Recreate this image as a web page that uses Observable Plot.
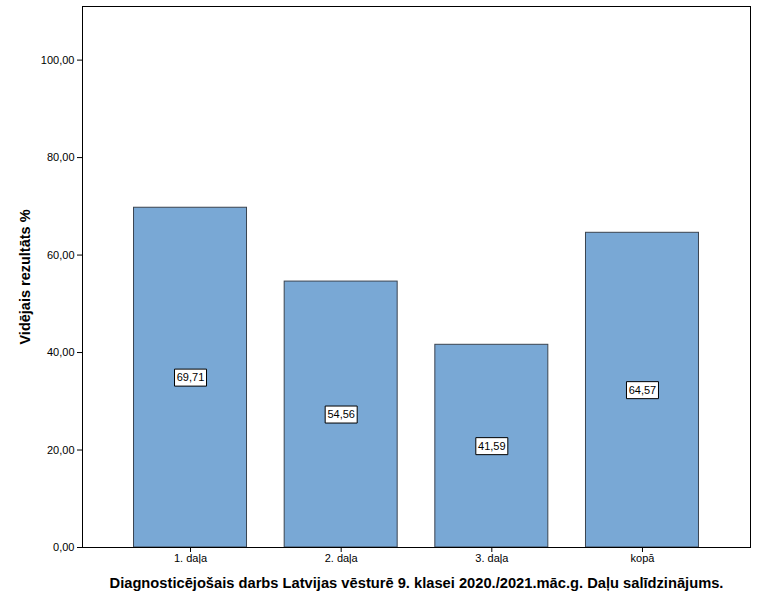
<!DOCTYPE html>
<html><head><meta charset="utf-8">
<script src="https://cdn.jsdelivr.net/npm/d3@7"></script>
<script src="https://cdn.jsdelivr.net/npm/@observablehq/plot@0.6"></script>
<style>body{margin:0;background:#fff;} svg{display:block;}</style>
</head><body><div id="chart"></div>
<script>
const categories = ["1. daļa", "2. daļa", "3. daļa", "kopā"];
const values = [69.71, 54.56, 41.59, 64.57];
const yTicks = [0, 20, 40, 60, 80, 100];
const xTitle = "Diagnosticējošais darbs Latvijas vēsturē 9. klasei 2020./2021.māc.g. Daļu salīdzinājums.";
const yTitle = "Vidējais rezultāts %";

const data = categories.map((c, i) => ({cat: c, value: values[i]}));
const fmt = d => d.toFixed(2).replace(".", ",");
const boxSymbol = {draw(ctx) {
  ctx.moveTo(-16, -8.5); ctx.lineTo(16, -8.5); ctx.lineTo(16, 8.5); ctx.lineTo(-16, 8.5); ctx.closePath();
}};

const chart = Plot.plot({
  width: 758, height: 606,
  marginLeft: 82, marginRight: 8, marginTop: 6, marginBottom: 59,
  style: {fontFamily: "'Liberation Sans', Arial, sans-serif", fontSize: "11px", color: "#000", background: "#fff"},
  x: {type: "band", domain: categories, paddingInner: 0.25, paddingOuter: 0.342, round: false},
  y: {domain: [0, 111]},
  marks: [
    Plot.barY(data, {x: "cat", y: "value", fill: "#79a8d5", stroke: "#3a4450", strokeWidth: 1}),
    Plot.dot(data, {x: "cat", y: d => d.value / 2, symbol: boxSymbol, fill: "#fff", stroke: "#000", strokeWidth: 1, r: 1}),
    Plot.text(data, {x: "cat", y: d => d.value / 2, text: d => fmt(d.value), fill: "#000", fontSize: 11}),
    Plot.frame({stroke: "#000", strokeWidth: 1}),
    Plot.axisY({ticks: yTicks, tickFormat: fmt, tickSize: 5, tickPadding: 3, label: null, fontSize: 11}),
    Plot.axisX({tickSize: 5, tickPadding: 2, label: null, fontSize: 11}),
    Plot.text([yTitle], {frameAnchor: "left", textAnchor: "middle", rotate: -90, dx: -57, fontWeight: "bold", fontSize: 14.5, fill: "#000"}),
    Plot.text([xTitle], {frameAnchor: "bottom", textAnchor: "middle", dy: 40, fontWeight: "bold", fontSize: 14.7, fill: "#000"})
  ]
});
document.getElementById("chart").appendChild(chart);
</script>
</body></html>
